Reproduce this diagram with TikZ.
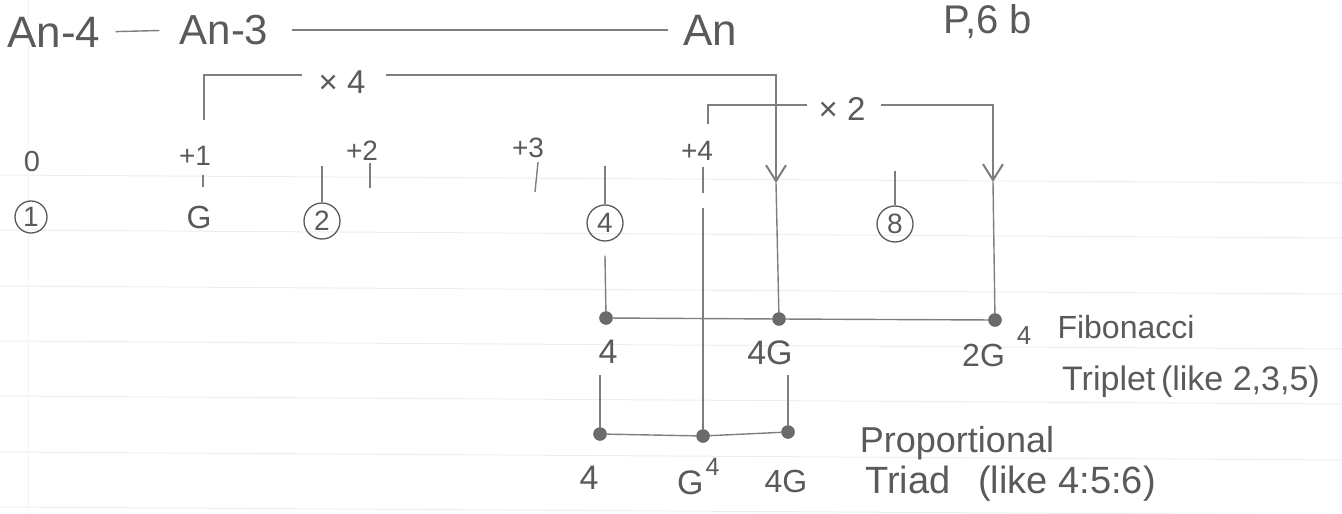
\documentclass[tikz,border=0pt]{standalone}
\usepackage{fontspec}
\setmainfont{Liberation Sans}
\usetikzlibrary{arrows.meta}
\definecolor{pencil}{HTML}{5A5A5A}
\definecolor{lead}{HTML}{7E7E7E}
\definecolor{ruling}{HTML}{EDEDEF}
\newcommand{\fsz}[1]{\fontsize{#1}{#1}\selectfont}
\begin{document}
\begin{tikzpicture}[x=1pt,y=-1pt,
  txt/.style={text=pencil,inner sep=0pt},
  ln/.style={draw=lead,line width=1.4pt},
  dotnode/.style={circle,fill=pencil!90,draw=pencil,inner sep=0pt,minimum size=13pt},
  circnum/.style={circle,draw=pencil,line width=1.3pt,text=pencil,minimum size=36pt,inner sep=0pt,font=\fsz{28}},
  arr/.style={-{Straight Barb[length=16pt,width=20pt,line width=2pt]}},
  paperline/.style={draw=ruling,line width=1pt}]
\useasboundingbox (0,0) rectangle (1342,514);
% notebook ruling
\foreach \yy in {175,230,286,341,396,452,507}
  \draw[paperline] (0,\yy) -- (1342,\yy+8);
\draw[draw=ruling!60,line width=0.8pt] (28,0) -- (28,514);

% top row
\node[txt,font=\fsz{44}] (an4) at (54,32) {An-4};
\node[txt,font=\fsz{42}] (an3) at (224,30) {An-3};
\node[txt,font=\fsz{44}] (an) at (710,30) {An};
\node[txt,font=\fsz{40}] (pg) at (988,22) {P,6 b};
\draw[ln,shorten <=15pt,shorten >=20pt] (an4.east) -- (an3.west);
\draw[ln,shorten <=23pt,shorten >=15pt] (an3.east) -- (an.west);

% x4 bracket
\node[txt,font=\fsz{33}] (x4) at (342,82) {× 4};
\coordinate (x4a) at (204,120);
\coordinate (x4b) at (776,183);
\draw[ln] (x4a) |- ([xshift=-16pt,yshift=7pt]x4.west);
\draw[ln,arr] ([xshift=20pt,yshift=7pt]x4.east) -| (x4b);

% x2 bracket
\node[txt,font=\fsz{33}] (x2) at (842,109) {× 2};
\coordinate (x2a) at (708,124);
\coordinate (x2b) at (993,182);
\draw[ln] (x2a) |- ([xshift=-11pt,yshift=4pt]x2.west);
\draw[ln,arr] ([xshift=15pt,yshift=4pt]x2.east) -| (x2b);

% step labels
\node[txt,font=\fsz{29}] (z0) at (32,162) {0};
\node[txt,font=\fsz{28}] (p1) at (195,156) {+1};
\node[txt,font=\fsz{28}] (p2) at (362,151) {+2};
\node[txt,font=\fsz{28}] (p3) at (528,148) {+3};
\node[txt,font=\fsz{28}] (p4) at (697,151) {+4};
\draw[ln] ([shift={(8,9)}]p1.south) -- ++(0,12);
\draw[ln] ([shift={(8,2)}]p2.south) -- ++(0,25);
\draw[ln] ([shift={(10,4)}]p3.south) -- ++(-3,30);
\draw[ln] ([shift={(6,6)}]p4.south) -- ++(0,26);

% circled values
\node[circnum,minimum size=32pt] (c1) at (31,217) {1};
\node[txt,font=\fsz{32}] (g) at (199,217) {G};
\node[circnum] (c2) at (322,221) {2};
\node[circnum] (c4) at (605,223) {4};
\node[circnum] (c8) at (895,224) {8};
\draw[ln] (c2.north) -- ++(0,-36);
\draw[ln] (c4.north) -- ++(0,-38);
\draw[ln] (c8.north) -- ++(0,-34);

% Fibonacci triplet row
\node[dotnode] (f1) at (606,318) {};
\node[dotnode] (f2) at (779,319) {};
\node[dotnode] (f3) at (995,320) {};
\draw[ln] (f1) -- (f2) -- (f3);
\draw[ln] ([yshift=-14pt]c4.south) -- (f1);
\draw[ln] (x4b) -- (f2);
\draw[ln] (x2b) -- (f3);
\node[txt,font=\fsz{34}] (l4) at (608,352) {4};
\node[txt,font=\fsz{34}] (l4g) at (770,353) {4G};
\node[txt,font=\fsz{32},anchor=base west] (l2g) at (962,366) {2G\hspace{12pt}\raisebox{22pt}{\fsz{26}4}};
\node[txt,font=\fsz{32}] (fib) at (1126,327) {Fibonacci};
\node[txt,font=\fsz{34}] (trip) at (1191,382) {Triplet\,(like 2,3,5)};

% Proportional triad row
\node[dotnode] (t1) at (600,434) {};
\node[dotnode] (t2) at (703,436) {};
\node[dotnode] (t3) at (788,432) {};
\draw[ln] (t1) -- (t2) -- (t3);
\draw[ln,shorten <=11pt] (t1 |- l4.south) -- (t1);
\draw[ln,shorten <=10pt] (t3 |- l4g.south) -- (t3);
\draw[ln] ([shift={(6,47)}]p4.south) -- (t2);
\node[txt,font=\fsz{34}] (m4) at (589,478) {4};
\node[txt,font=\fsz{34},anchor=base west] (mg4) at (677,494) {G\hspace{2pt}\raisebox{19pt}{\fsz{25}4}};
\node[txt,font=\fsz{32}] (m4g) at (786,481) {4G};
\node[txt,font=\fsz{36}] (prop) at (957,443) {Proportional};
\node[txt,font=\fsz{38},anchor=base west] (triad) at (865,493) {Triad\hspace{28pt}(like 4:5:6)};
\end{tikzpicture}
\end{document}
